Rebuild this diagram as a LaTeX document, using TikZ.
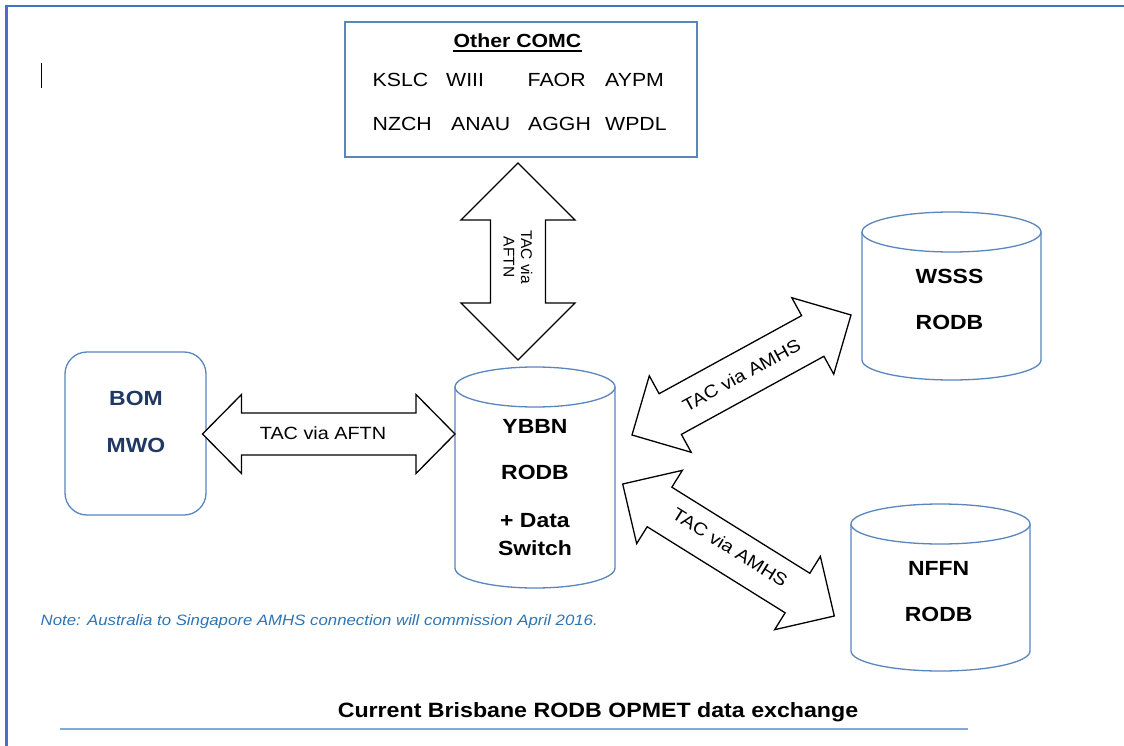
\documentclass[tikz,border=0pt]{standalone}
\usepackage{fontspec}
\setmainfont{Liberation Sans}[FakeStretch=1.12]
\newfontfamily\plainsans{Liberation Sans}
\usetikzlibrary{calc}
\definecolor{frameblue}{HTML}{4472C4}
\definecolor{shapeblue}{HTML}{5A86BE}
\definecolor{navytext}{HTML}{1F3864}
\definecolor{noteblue}{HTML}{2E75B6}
\definecolor{rulelight}{HTML}{7FAADC}
\tikzset{
  fatarrow/.style={draw=black, fill=white, line width=1.3pt, line join=miter},
  shapeline/.style={draw=shapeblue, line width=1.3pt, fill=white},
  comclab/.style={font=\fontsize{19}{22}\selectfont, inner sep=0pt, anchor=base west},
  dblab/.style={font=\bfseries\fontsize{20.5}{24}\selectfont, inner sep=0pt, anchor=base},
  tvlab/.style={font=\fontsize{17.7}{20}\selectfont, inner sep=0pt},
}
% block double arrow between two named tips
\newcommand\fatarrowpath[5]{%
  \path ($(#1)!#3!(#2)$) coordinate (fa-a) ($(#2)!#3!(#1)$) coordinate (fa-b);
  \draw[fatarrow] (#1) -- ($(fa-a)!#4!90:(#2)$) -- ($(fa-a)!#5!90:(#2)$)
    -- ($(fa-b)!#5!-90:(#1)$) -- ($(fa-b)!#4!-90:(#1)$) -- (#2)
    -- ($(fa-b)!#4!90:(#1)$) -- ($(fa-b)!#5!90:(#1)$)
    -- ($(fa-a)!#5!-90:(#2)$) -- ($(fa-a)!#4!-90:(#2)$) -- cycle;
}
% database cylinder: name, left, top, right, bottom
\newcommand\dbcyl[5]{%
  \pgfmathsetmacro\cylcx{(#2+#4)/2}%
  \pgfmathsetmacro\cylrx{(#4-#2)/2}%
  \pgfmathsetmacro\cylcy{(#3+#5)/2}%
  \pgfmathsetmacro\cylw{#4-#2}%
  \pgfmathsetmacro\cylh{#5-#3}%
  \draw[shapeline] (#2,{#3+20}) -- (#2,{#5-20})
    arc[start angle=180, end angle=360, x radius=\cylrx pt, y radius=20pt]
    -- (#4,{#3+20});
  \draw[shapeline] (\cylcx,{#3+20}) ellipse [x radius=\cylrx pt, y radius=20pt];
  \node[inner sep=0pt, minimum width=\cylw pt, minimum height=\cylh pt] (#1) at (\cylcx,\cylcy) {};
}
\begin{document}
\begin{tikzpicture}[x=1pt, y={(0pt,-1pt)}]
\useasboundingbox (0,0) rectangle (1124,746);
\fill[white] (0,0) rectangle (1124,746);
% page frame
\draw[frameblue, line width=2.2pt] (6.5,746) -- (6.5,6) -- (1124,6);
% text cursor
\draw[line width=1.3pt] (41.5,63) -- (41.5,88);

% Other COMC box
\node[draw=shapeblue, line width=1.3pt, minimum width=352pt, minimum height=135pt, inner sep=0pt] (comc) at (521,89.5) {};
\node[font=\bfseries\fontsize{19}{22}\selectfont, inner sep=0pt, anchor=base] (comctitle) at (517.5,47.5) {Other COMC};
\draw[line width=1.2pt] ([yshift=-3.5pt]comctitle.base west) -- ([yshift=-3.5pt]comctitle.base east);
\node[comclab] (kslc) at (372.5,86.8) {KSLC};
\node[comclab] (wiii) at (446,86.8) {WIII};
\node[comclab] (faor) at (527.5,86.8) {FAOR};
\node[comclab] (aypm) at (605,86.8) {AYPM};
\node[comclab] (nzch) at (372.5,130.5) {NZCH};
\node[comclab] (anau) at (451,130.5) {ANAU};
\node[comclab] (aggh) at (528,130.5) {AGGH};
\node[comclab] (wpdl) at (605,130.5) {WPDL};

% BOM MWO box
\node[draw=shapeblue, line width=1.3pt, rounded corners=22pt, minimum width=141pt, minimum height=163pt, inner sep=0pt] (bom) at (135.5,433.5) {};
\node[dblab, text=navytext] (bomt) at (136,405.5) {BOM};
\node[dblab, text=navytext] (mwot) at (136,452) {MWO};

% cylinders
\dbcyl{ybbn}{455}{367}{615}{588}
\dbcyl{wsss}{862}{212}{1041}{380}
\dbcyl{nffn}{851}{504}{1030}{671}
\node[dblab] (ybbn1) at (535,433.5) {YBBN};
\node[dblab] (ybbn2) at (535,479.5) {RODB};
\node[dblab] (ybbn3) at (535,527) {+ Data};
\node[dblab] (ybbn4) at (535,555) {Switch};
\node[dblab] (wsss1) at (949.5,283) {WSSS};
\node[dblab] (wsss2) at (949.5,329.5) {RODB};
\node[dblab] (nffn1) at (938.7,575.5) {NFFN};
\node[dblab] (nffn2) at (938.7,621.5) {RODB};

% vertical arrow COMC <-> YBBN
\coordinate (v1) at (518,163);
\coordinate (v2) at (518,360);
\fatarrowpath{v1}{v2}{57pt}{57pt}{27.5pt}
\node[font=\plainsans\fontsize{15.5}{17.5}\selectfont, rotate=-90, align=center, inner sep=0pt] (vlab) at (518,257) {TAC via\\AFTN};

% horizontal arrow BOM <-> YBBN
\coordinate (h1) at (202.5,434);
\coordinate (h2) at (455,434);
\fatarrowpath{h1}{h2}{39pt}{39.5pt}{21pt}
\node[tvlab, anchor=base] (hlab) at (323,439) {TAC via AFTN};

% diagonal arrow YBBN <-> WSSS
\coordinate (u1) at (632,435);
\coordinate (u2) at (851,315);
\fatarrowpath{u1}{u2}{43.6pt}{43.6pt}{23.2pt}
\path (u1) -- node[tvlab, sloped] (ulab) {TAC via AMHS} (u2);

% diagonal arrow YBBN <-> NFFN
\coordinate (d1) at (622.7,484);
\coordinate (d2) at (834.3,616);
\fatarrowpath{d1}{d2}{43.4pt}{43.2pt}{23.3pt}
\path (d1) -- node[tvlab, sloped, yshift=3pt] (dlab) {TAC via AMHS} (d2);

% note and caption
\node[font=\itshape\fontsize{15}{18}\selectfont, text=noteblue, anchor=base west, inner sep=0pt] (note) at (40.5,625.7) {Note: Australia to Singapore AMHS connection will commission April 2016.};
\node[font=\bfseries\fontsize{20.7}{24}\selectfont, anchor=base, inner sep=0pt] (caption) at (598,717.3) {Current Brisbane RODB OPMET data exchange};
\draw[rulelight, line width=2pt] (60,729) -- (968,729);
\end{tikzpicture}
\end{document}
